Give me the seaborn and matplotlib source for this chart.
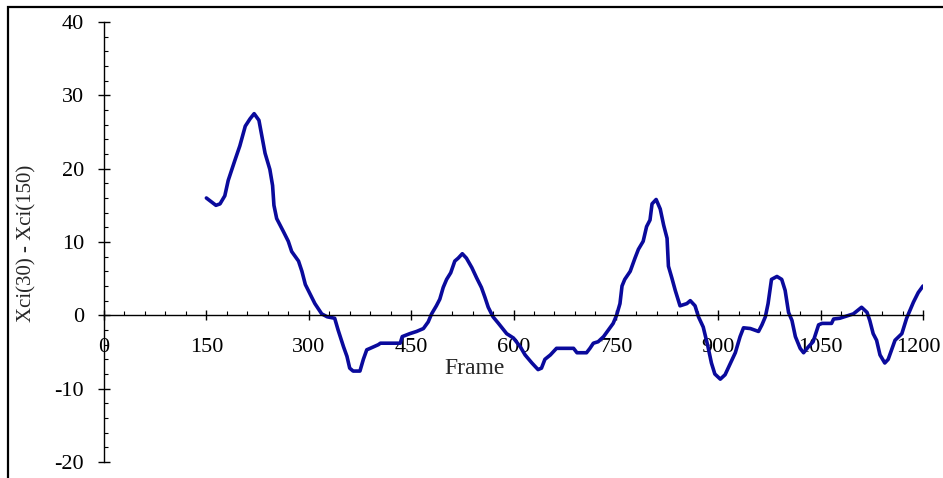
import pandas as pd
import seaborn as sns
import matplotlib.pyplot as plt
import matplotlib.transforms as mtransforms
from matplotlib.ticker import MultipleLocator
from matplotlib.patches import Rectangle

# pontos (frame, Xci(30) - Xci(150))
frames = [150, 157, 164, 170, 177, 182, 192, 199, 207, 214, 220, 227, 231, 236, 243,
          247, 249, 253, 263, 270, 275, 285, 290, 295, 302, 309, 319, 327, 338, 343,
          351, 356, 360, 365, 375, 380, 385, 390, 402, 405, 434, 437, 448, 458, 468,
          475, 480, 487, 492, 497, 502, 508, 514, 519, 525, 531, 539, 546, 553, 558,
          563, 570, 578, 590, 600, 610, 617, 627, 636, 641, 646, 654, 661, 663, 688,
          693, 707, 712, 717, 724, 732, 739, 746, 751, 756, 759, 763, 768, 771, 778,
          783, 790, 795, 800, 803, 809, 815, 820, 825, 827, 832, 837, 844, 854, 859,
          866, 871, 878, 885, 890, 895, 903, 910, 917, 925, 932, 937, 947, 959, 964,
          969, 973, 978, 986, 993, 998, 1003, 1008, 1013, 1020, 1025, 1032, 1039, 1047, 1052,
          1066, 1069, 1078, 1088, 1098, 1110, 1118, 1122, 1127, 1132, 1137, 1144, 1149, 1154, 1159,
          1169, 1176, 1181, 1186, 1193, 1200]
diff = [16.0, 15.5, 15.0, 15.2, 16.3, 18.4, 21.2, 23.1, 25.8, 26.8, 27.5, 26.6, 24.6, 22.1, 19.9,
        17.7, 15.0, 13.2, 11.4, 10.1, 8.7, 7.4, 6.0, 4.2, 2.9, 1.6, 0.2, -0.2, -0.4, -2.0,
        -4.3, -5.6, -7.2, -7.6, -7.6, -6.0, -4.7, -4.5, -4.0, -3.8, -3.8, -2.9, -2.5, -2.2, -1.8,
        -0.9, 0.2, 1.3, 2.2, 3.8, 4.9, 5.8, 7.4, 7.8, 8.4, 7.8, 6.5, 5.1, 3.8, 2.5,
        1.1, -0.2, -1.1, -2.5, -3.1, -4.3, -5.4, -6.5, -7.4, -7.2, -6.0, -5.4, -4.7, -4.5, -4.5,
        -5.1, -5.1, -4.5, -3.8, -3.6, -2.9, -2.0, -1.1, 0.0, 1.6, 4.0, 4.9, 5.6, 6.0, 7.8,
        9.0, 10.1, 12.1, 13.0, 15.2, 15.8, 14.5, 12.3, 10.5, 6.7, 5.1, 3.4, 1.3, 1.6, 2.0,
        1.3, -0.2, -1.6, -4.3, -6.5, -8.0, -8.7, -8.1, -6.7, -5.1, -2.9, -1.7, -1.8, -2.2, -1.3,
        -0.2, 1.6, 4.9, 5.3, 4.9, 3.4, 0.4, -0.7, -2.9, -4.5, -5.1, -4.3, -3.6, -1.3, -1.1,
        -1.1, -0.5, -0.4, -0.1, 0.2, 1.1, 0.4, -0.7, -2.5, -3.4, -5.4, -6.5, -6.0, -4.7, -3.4,
        -2.5, -0.4, 0.7, 1.8, 3.1, 4.0]

x_ticks = [0, 150, 300, 450, 600, 750, 900, 1050, 1200]
y_ticks = [-20, -10, 0, 10, 20, 30, 40]

df = pd.DataFrame({"frame": frames, "diff": diff})

sns.set_style("white")
plt.rcParams["font.family"] = ["Liberation Serif", "DejaVu Serif"]
plt.rcParams["axes.unicode_minus"] = False

fig = plt.figure(figsize=(9.43, 4.78), dpi=100)
W, H = 943, 478
ax = fig.add_axes([104 / W, (H - 462) / H, (923 - 104) / W, (462 - 22) / H])

sns.lineplot(data=df, x="frame", y="diff", color="#0a0a9c", linewidth=2.6, ax=ax)

ax.set_xlim(0, 1200)
ax.set_ylim(-20, 40)
ax.spines["left"].set_position(("data", 0))
ax.spines["bottom"].set_position(("data", 0))
ax.spines["top"].set_visible(False)
ax.spines["right"].set_visible(False)
for s in ["left", "bottom"]:
    ax.spines[s].set_color("black")
    ax.spines[s].set_linewidth(1.0)

ax.set_xticks(x_ticks)
ax.set_yticks(y_ticks)
ax.xaxis.set_minor_locator(MultipleLocator(30))
ax.yaxis.set_minor_locator(MultipleLocator(2))
ax.tick_params(axis="x", which="major", direction="inout", length=7, width=1,
               labelsize=16, pad=13, colors="black")
ax.tick_params(axis="y", which="major", direction="inout", length=9, width=1,
               labelsize=16, pad=10, colors="black")
ax.tick_params(which="minor", direction="in", length=3, width=0.8, colors="black")
ax.tick_params(axis="x", which="both", bottom=True)
ax.tick_params(axis="y", which="both", left=True)

# último rótulo do eixo x um pouco para dentro para não ser cortado
last = ax.get_xticklabels()[-1]
last.set_transform(last.get_transform() +
                   mtransforms.ScaledTranslation(-5 / 100, 0, fig.dpi_scale_trans))

ax.set_xlabel("Frame", fontsize=17)
ax.xaxis.set_label_coords(0.452, 0.2136)
ax.xaxis.label.set_verticalalignment("center")
ax.set_ylabel("Xci(30) - Xci(150)", fontsize=15)
ax.yaxis.set_label_coords(-0.094, 0.498)
ax.yaxis.label.set_verticalalignment("center")

# moldura da figura (só em cima e à esquerda)
fig.patches.append(Rectangle((8 / W, -0.1), 1.2, (H - 7) / H + 0.1,
                             transform=fig.transFigure, fill=False,
                             edgecolor="black", linewidth=1.6))

fig.savefig("out.png", dpi=100)
